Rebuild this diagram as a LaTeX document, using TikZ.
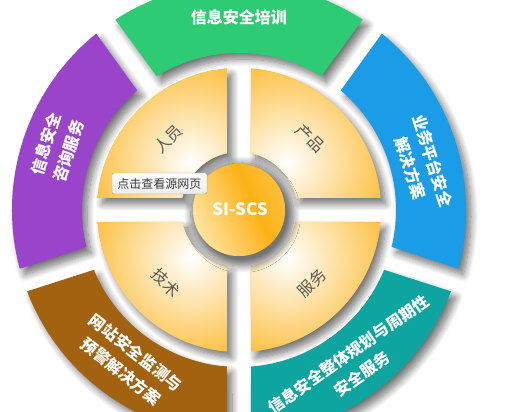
\documentclass[tikz,border=0pt]{standalone}
\usepackage{fontspec}
\setmainfont{Noto Sans CJK SC}
\usetikzlibrary{shadows.blur}

\definecolor{segGreen}{RGB}{46,203,117}
\definecolor{segBlue}{RGB}{27,156,231}
\definecolor{segTeal}{RGB}{14,164,160}
\definecolor{segBrown}{RGB}{162,98,15}
\definecolor{segPurple}{RGB}{153,68,203}
\definecolor{quadOrange}{RGB}{252,178,22}
\definecolor{coreLight}{RGB}{254,206,95}
\definecolor{corePale}{RGB}{255,228,160}
\definecolor{quadText}{RGB}{88,88,88}
\definecolor{tipText}{RGB}{60,60,60}

\begin{document}
\begin{tikzpicture}[x=1pt, y=1pt,
        seg/.style={fill=#1, blur shadow={shadow xshift=5pt, shadow yshift=-6pt, shadow blur radius=7pt, shadow blur steps=10, shadow opacity=55}},
        segtext/.style={text=white, font=\bfseries\fontsize{16}{24}\selectfont, align=center, inner sep=0pt},
        quadtext/.style={text=quadText, font=\fontsize{16}{18}\selectfont, inner sep=0pt},
        tipbox/.style={draw=gray!80, top color=white, bottom color=blue!4!gray!15, rounded corners=1.5pt,
            minimum width=95, minimum height=21, inner sep=0pt, text=tipText, font=\fontsize{12}{14}\selectfont}]
    \useasboundingbox (-239,-202) rectangle (292,210);
    \clip (-239,-202) rectangle (292,210);

    % outer ring
    \foreach \mid/\col in {90/segGreen, 18/segBlue, -54/segTeal, 234/segBrown, 162/segPurple}
        \path[seg=\col] (\mid-33:227) arc[start angle=\mid-33, end angle=\mid+33, radius=227]
            -- (\mid+31.6:157) arc[start angle=\mid+31.6, end angle=\mid-31.6, radius=157] -- cycle;

    % quadrants
    \foreach \mid in {45,135,225,315} {
        \path[seg=quadOrange] (\mid-40.15:142) arc[start angle=\mid-40.15, end angle=\mid+40.15, radius=142]
            -- (\mid+33.06:58) arc[start angle=\mid+33.06, end angle=\mid-33.06, radius=58] -- cycle;
        \begin{scope}
            \clip (\mid-40.15:142) arc[start angle=\mid-40.15, end angle=\mid+40.15, radius=142]
                -- (\mid+33.06:58) arc[start angle=\mid+33.06, end angle=\mid-33.06, radius=58] -- cycle;
            \shade[inner color=white, outer color=quadOrange] (\mid:68) circle (125);
        \end{scope}
    }

    % core
    \path[fill=quadOrange, blur shadow={shadow scale=1.12, shadow xshift=3pt, shadow yshift=-4pt, shadow blur radius=6pt, shadow blur steps=10, shadow opacity=55}] (0,0) circle (46);
    \begin{scope}
        \clip (0,0) circle (46);
        \shade[top color=coreLight, bottom color=corePale, middle color=quadOrange, shading angle=-66] (24:16) circle (62);
    \end{scope}
    \node[text=white, font=\bfseries\fontsize{17}{20}\selectfont] (core) at (1,1) {SI-SCS};

    % ring labels
    \node[segtext] (train) at (90:193) {信息安全培训};
    \node[segtext, rotate=-72] (bizsol) at (14:188) {业务平台安全\\解决方案};
    \node[segtext, rotate=35] (plansvc) at (-53:193) {信息安全整体规划与周期性\\安全服务};
    \node[segtext, rotate=-38] (webmon) at (234:188) {网站安全监测与\\预警解决方案};
    \node[segtext, rotate=72] (consult) at (161:192) {信息安全\\咨询服务};

    % quadrant labels
    \node[quadtext, rotate=45] (people) at (135:100) {人员};
    \node[quadtext, rotate=-45] (product) at (45:101) {产品};
    \node[quadtext, rotate=-45] (tech) at (225:103) {技术};
    \node[quadtext, rotate=45] (service) at (-45:103) {服务};

    \node[tipbox] (tip) at (-79.5,26.5) {点击查看源网页};
\end{tikzpicture}
\end{document}
